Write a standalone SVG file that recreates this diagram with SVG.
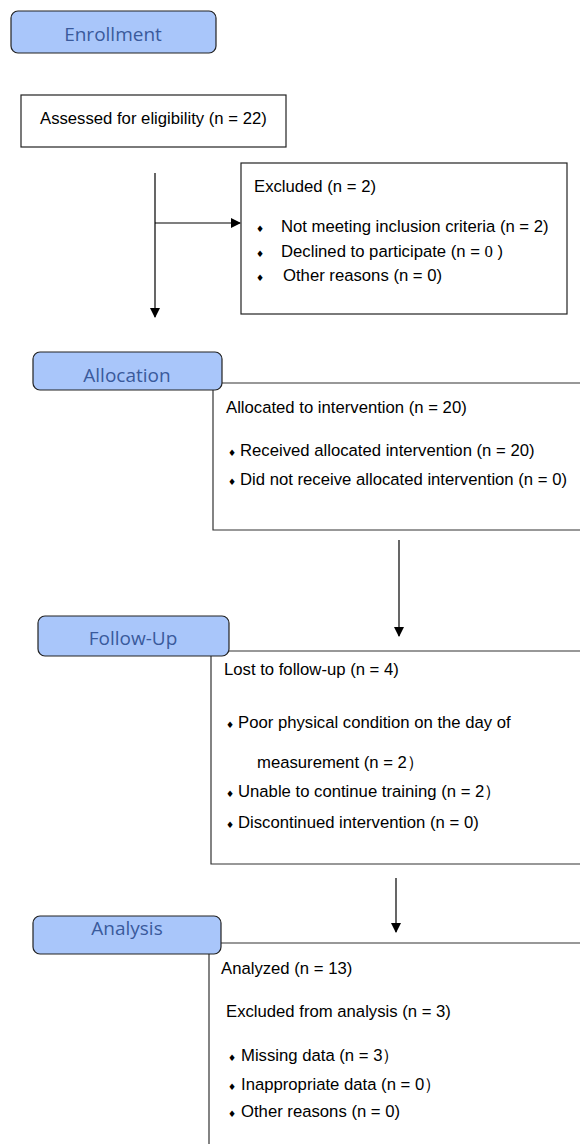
<svg xmlns="http://www.w3.org/2000/svg" width="580" height="1144" viewBox="0 0 580 1144">
<style>
.tab{fill:#a9c6fa;stroke:#222;stroke-width:1.2}
.tabt{font-family:"Open Sans","Noto Sans",sans-serif;font-size:19px;fill:#3a5a9c;text-anchor:middle}
.box{fill:#fff;stroke:#222;stroke-width:1.2}
.ln{fill:none;stroke:#333;stroke-width:1.2}
.t{font-family:"Liberation Sans",Arial,sans-serif;font-size:16.7px;fill:#000}
.b{font-family:"DejaVu Sans",sans-serif;font-size:9px;fill:#000}
.c{fill:none;stroke:#000;stroke-width:1.2}
</style>
<defs>
<marker id="ah" markerWidth="10" markerHeight="10" refX="9" refY="5" orient="auto" markerUnits="userSpaceOnUse">
<path d="M0,0 L10,5 L0,10 Z" fill="#000"/>
</marker>
</defs>
<rect width="580" height="1144" fill="#fff"/>
<g id="enrollment">
<rect class="tab" x="11" y="11" width="205" height="42" rx="7"/>
<text class="tabt" x="113" y="41">Enrollment</text>
</g>
<g id="assessed">
<rect class="box" x="21" y="95" width="265" height="52"/>
<text class="t" x="40" y="124">Assessed for eligibility (n = 22)</text>
</g>
<g id="excluded">
<rect class="box" x="241" y="163" width="326" height="151"/>
<text class="t" x="254" y="192">Excluded (n = 2)</text>
<text class="b" x="256" y="232">♦</text>
<text class="t" x="281" y="232">Not meeting inclusion criteria (n = 2)</text>
<text class="b" x="256" y="257">♦</text>
<text class="t" x="281" y="257">Declined to participate (n = <tspan font-family="Liberation Serif,serif">0</tspan> )</text>
<text class="b" x="256" y="281">♦</text>
<text class="t" x="283" y="281">Other reasons (n = 0)</text>
</g>
<g id="allocation">
<path class="ln" d="M580,383 L222,383 M213,390 L213,530 L580,530"/>
<rect class="tab" x="33" y="352" width="189" height="38" rx="7"/>
<text class="tabt" x="127" y="382">Allocation</text>
<text class="t" x="226" y="413">Allocated to intervention (n = 20)</text>
<text class="b" x="228" y="456">♦</text>
<text class="t" x="240" y="456">Received allocated intervention (n = 20)</text>
<text class="b" x="228" y="485">♦</text>
<text class="t" x="240" y="485">Did not receive allocated intervention (n = 0)</text>
</g>
<g id="followup">
<path class="ln" d="M580,651 L229,651 M211,656 L211,864 L580,864"/>
<rect class="tab" x="38" y="616" width="191" height="40" rx="7"/>
<text class="tabt" x="133" y="645">Follow-Up</text>
<text class="t" x="224" y="675">Lost to follow-up (n = 4)</text>
<text class="b" x="226" y="728">♦</text>
<text class="t" x="238" y="728">Poor physical condition on the day of</text>
<text class="t" x="257" y="768">measurement (n = 2）</text>
<text class="b" x="226" y="797">♦</text>
<text class="t" x="238" y="797">Unable to continue training (n = 2）</text>
<text class="b" x="226" y="828">♦</text>
<text class="t" x="238" y="828">Discontinued intervention (n = 0)</text>
</g>
<g id="analysis">
<path class="ln" d="M580,943 L221,943 M209,954 L209,1144"/>
<rect class="tab" x="33" y="916" width="188" height="38" rx="7"/>
<text class="tabt" x="127" y="935">Analysis</text>
<text class="t" x="221" y="974">Analyzed (n = 13)</text>
<text class="t" x="226" y="1017">Excluded from analysis (n = 3)</text>
<text class="b" x="228" y="1061">♦</text>
<text class="t" x="241" y="1061">Missing data (n = 3）</text>
<text class="b" x="228" y="1090">♦</text>
<text class="t" x="241" y="1090">Inappropriate data (n = 0）</text>
<text class="b" x="228" y="1117">♦</text>
<text class="t" x="241" y="1117">Other reasons (n = 0)</text>
</g>
<g id="connectors">
<path class="c" d="M155,173 L155,317" marker-end="url(#ah)"/>
<path class="c" d="M155,223 L240,223" marker-end="url(#ah)"/>
<path class="c" d="M399,540 L399,636" marker-end="url(#ah)"/>
<path class="c" d="M396,878 L396,932" marker-end="url(#ah)"/>
</g>
</svg>
